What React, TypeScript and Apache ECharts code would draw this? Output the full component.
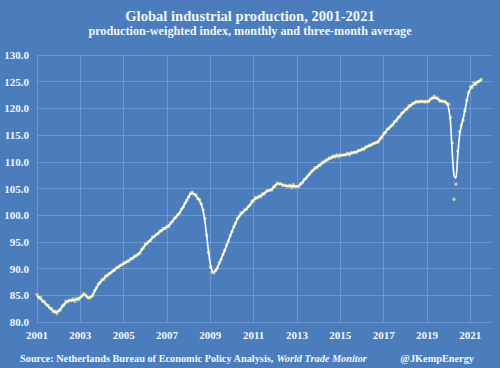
import React, { useEffect, useRef } from "react";
import * as echarts from "echarts";

// Monthly index values (Jan..Dec)
const v2001 = [85.1, 84.5, 84.6, 83.9, 83.8, 83.3, 83.1, 82.6, 82.5, 81.9, 82.0, 81.6];
const v2002 = [82.1, 82.3, 83.0, 83.2, 83.9, 83.8, 84.1, 84.0, 84.3, 83.9, 84.4, 84.2];
const v2003 = [84.6, 84.9, 85.3, 85.0, 84.6, 84.5, 84.7, 85.0, 85.9, 86.4, 87.1, 87.4];
const v2004 = [87.9, 88.0, 88.6, 88.7, 89.1, 89.2, 89.6, 89.7, 90.2, 90.2, 90.6, 90.7];
const v2005 = [91.0, 91.1, 91.4, 91.4, 91.9, 91.9, 92.3, 92.4, 92.7, 92.9, 93.6, 93.9];
const v2006 = [94.6, 94.7, 95.1, 95.3, 95.9, 96.0, 96.4, 96.5, 97.0, 97.1, 97.5, 97.5];
const v2007 = [97.9, 97.9, 98.5, 98.8, 99.4, 99.6, 100.1, 100.4, 101.1, 101.5, 102.3, 102.8];
const v2008 = [103.4, 104.1, 104.3, 103.9, 103.8, 103.1, 102.9, 102.1, 101.0, 99.4, 96.2, 93.0];
const v2009 = [90.3, 89.3, 89.2, 89.7, 90.1, 91.1, 91.7, 92.7, 93.4, 94.4, 95.1, 96.2];
const v2010 = [96.9, 97.9, 98.5, 99.4, 99.8, 100.4, 100.5, 101.0, 101.1, 101.6, 101.9, 102.6];
const v2011 = [102.7, 103.3, 103.2, 103.6, 103.5, 104.0, 104.0, 104.5, 104.6, 104.7, 104.7, 105.3];
const v2012 = [105.5, 106.0, 105.9, 105.9, 105.6, 105.6, 105.5, 105.4, 105.6, 105.2, 105.7, 105.3];
const v2013 = [105.4, 105.4, 105.9, 106.1, 106.7, 106.9, 107.4, 107.7, 108.2, 108.4, 108.9, 108.9];
const v2014 = [109.3, 109.4, 109.9, 109.9, 110.3, 110.4, 110.7, 110.7, 111.1, 110.9, 111.3, 111.0];
const v2015 = [111.3, 111.2, 111.3, 111.3, 111.6, 111.3, 111.7, 111.7, 111.8, 111.8, 112.1, 112.1];
const v2016 = [112.4, 112.3, 112.8, 112.8, 113.1, 113.1, 113.4, 113.5, 113.6, 113.7, 114.3, 114.6];
const v2017 = [115.3, 115.5, 116.1, 116.3, 116.7, 116.9, 117.5, 117.7, 118.3, 118.5, 119.1, 119.3];
const v2018 = [119.8, 119.9, 120.5, 120.5, 120.9, 121.0, 121.3, 121.2, 121.3, 121.3, 121.3, 121.2];
const v2019 = [121.3, 121.3, 121.8, 121.9, 122.3, 121.9, 121.9, 121.4, 121.4, 121.3, 121.3, 120.9];
const v2020 = [120.8, 118.3, 113.5, 103.0, 105.8, 112.0, 115.6, 116.8, 117.8, 119.5, 121.5, 123.0];
const v2021 = [124.0, 123.9, 124.8, 124.5, 125.0, 125.1, 125.4];

const yearly = [v2001, v2002, v2003, v2004, v2005, v2006, v2007, v2008, v2009, v2010, v2011,
  v2012, v2013, v2014, v2015, v2016, v2017, v2018, v2019, v2020, v2021];
const firstYear = 2001;

const yTicks = [80, 85, 90, 95, 100, 105, 110, 115, 120, 125, 130];
const xTickYears = [2001, 2003, 2005, 2007, 2009, 2011, 2013, 2015, 2017, 2019, 2021];

const titleText = "Global industrial production, 2001-2021";
const subtitleText = "production-weighted index, monthly and three-month average";

export default function App() {
  const ref = useRef<HTMLDivElement>(null);
  useEffect(() => {
    if (!ref.current) return;
    document.body.style.margin = "0";
    const chart = echarts.init(ref.current, null, { renderer: "svg" });

    const monthly: [number, number][] = [];
    yearly.forEach((arr, yi) => {
      arr.forEach((v, m) => monthly.push([firstYear + yi + m / 12, v]));
    });
    // three-month centred average of the monthly readings
    const avg: [number, number][] = monthly.map((p, i) => {
      const win = monthly.slice(Math.max(0, i - 1), Math.min(monthly.length, i + 2));
      const s = win.reduce((a, q) => a + q[1], 0) / win.length;
      return [p[0], s];
    });

    const font = "'Liberation Serif', 'DejaVu Serif', serif";
    const txt = "#f2f6fa";
    const grid = "#6d98cf";

    chart.setOption({
      animation: false,
      backgroundColor: "#4b7dbd",
      textStyle: { fontFamily: font },
      title: [
        {
          text: titleText,
          left: "center",
          top: 3,
          textStyle: { fontFamily: font, fontSize: 14.6, fontWeight: "bold", color: "#eef6f6" },
        },
        {
          text: subtitleText,
          left: "center",
          top: 20,
          textStyle: { fontFamily: font, fontSize: 12.2, fontWeight: "bold", color: "#eef6f6" },
        },
      ],
      grid: { left: 37, right: 8, top: 55, bottom: 46 },
      xAxis: {
        type: "value",
        min: xTickYears[0],
        max: 2022,
        interval: 2,
        axisLine: { show: false },
        axisTick: { show: false },
        axisLabel: {
          color: txt,
          fontFamily: font,
          fontSize: 11,
          fontWeight: "bold",
          margin: 7,
          showMaxLabel: false,
          formatter: (v: number) => (xTickYears.includes(Math.round(v)) ? String(Math.round(v)) : ""),
        },
        splitLine: { show: true, showMaxLine: false, lineStyle: { color: grid, width: 1 } },
      },
      yAxis: {
        type: "value",
        min: yTicks[0],
        max: yTicks[yTicks.length - 1],
        interval: 5,
        axisLine: { show: false },
        axisTick: { show: false },
        axisLabel: {
          color: txt,
          fontFamily: font,
          fontSize: 11,
          fontWeight: "bold",
          margin: 8,
          formatter: (v: number) => v.toFixed(1),
        },
        splitLine: { show: true, lineStyle: { color: grid, width: 1 } },
      },
      series: [
        {
          type: "scatter",
          data: monthly,
          symbolSize: 3.4,
          itemStyle: { color: "#e2d98a", opacity: 0.85 },
          z: 2,
        },
        {
          type: "line",
          data: avg,
          smooth: 0.3,
          showSymbol: false,
          lineStyle: { color: "#f8fbfd", width: 1.7 },
          z: 3,
        },
      ],
      graphic: [
        {
          type: "text",
          x: 20,
          y: 358,
          style: {
            text: "{a|Source: Netherlands Bureau of Economic Policy Analysis, }{i|World Trade Monitor}",
            verticalAlign: "middle",
            align: "left",
            rich: {
              a: { fontFamily: font, fontSize: 10.3, fontWeight: "bold", fill: txt },
              i: { fontFamily: font, fontSize: 10.3, fontWeight: "bold", fontStyle: "italic", fill: txt },
            },
          },
        },
        {
          type: "text",
          x: 474,
          y: 358,
          style: {
            text: "@JKempEnergy",
            verticalAlign: "middle",
            align: "right",
            fontFamily: font,
            fontSize: 10.3,
            fontWeight: "bold",
            fill: txt,
          },
        },
      ],
    });
    return () => chart.dispose();
  }, []);
  return <div ref={ref} style={{ position: "fixed", left: 0, top: 0, width: 500, height: 368 }} />;
}
